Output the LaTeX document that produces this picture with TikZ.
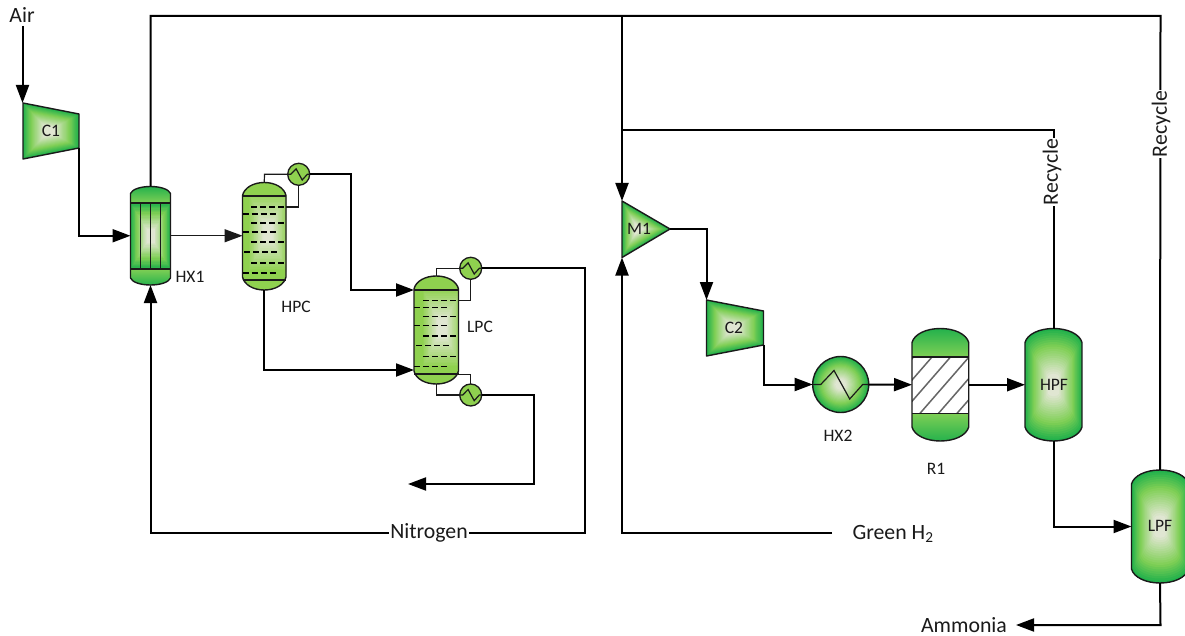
\documentclass[tikz,border=0pt]{standalone}
\usepackage{fontspec}
\setmainfont{Carlito}
\usetikzlibrary{arrows.meta,calc}
\definecolor{gouter}{HTML}{22B14C}
\definecolor{gmid}{HTML}{7FCF55}
\definecolor{ginner}{HTML}{E0E6D2}
\definecolor{column}{HTML}{8FD14F}
\definecolor{inkc}{HTML}{1A1A1A}
% vessel outline: x1,y1 (top left), x2,y2 (bottom right), d = dome height
\newcommand\vesselp[5]{({#1},{#2+#5})
 .. controls ({#1+.04*(#3-#1)},{#2+.4*#5}) and ({#1+.25*(#3-#1)},{#2}) .. ({.5*(#1+#3)},{#2})
 .. controls ({#3-.25*(#3-#1)},{#2}) and ({#3-.04*(#3-#1)},{#2+.4*#5}) .. ({#3},{#2+#5})
 -- ({#3},{#4-#5})
 .. controls ({#3-.04*(#3-#1)},{#4-.4*#5}) and ({#3-.25*(#3-#1)},{#4}) .. ({.5*(#1+#3)},{#4})
 .. controls ({#1+.25*(#3-#1)},{#4}) and ({#1+.04*(#3-#1)},{#4-.4*#5}) .. ({#1},{#4-#5}) -- cycle}
% shape-burst gradient: centre x, centre y, path
\newcommand\burst[3]{%
 \foreach \tt in {0,4,...,96}{%
  \ifnum\tt<30 \pgfmathtruncatemacro\mx{\tt*100/30}\colorlet{bc}{gmid!\mx!gouter}%
  \else \pgfmathtruncatemacro\mx{min(100,(\tt-30)*100/50)}\colorlet{bc}{ginner!\mx!gmid}\fi
  \pgfmathsetmacro\ss{1-\tt/100}%
  \begin{scope}[shift={(#1,#2)},scale=\ss,shift={(-#1,-#2)}]
   \fill[bc] #3;
  \end{scope}}}
% column glow: centre x, centre y, half widths
\newcommand\glow[4]{%
 \foreach \tt in {0,4,...,96}{%
  \pgfmathtruncatemacro\mx{min(100,\tt*1.3)}\colorlet{bc}{ginner!\mx!column}%
  \pgfmathsetmacro\ss{1-\tt/100}%
  \fill[bc] ({#1-\ss*#3},{#2-\ss*#4}) rectangle ({#1+\ss*#3},{#2+\ss*#4});}}
\tikzset{
 outline/.style={draw=inkc,line width=1.4pt,line join=round},
 eqport/.style={inner sep=0pt,outer sep=0pt,draw=none,fill=none,rectangle},
 small/.style={font=\fontsize{17.5}{20}\selectfont,text=inkc,inner sep=1pt},
 big/.style={font=\fontsize{21.8}{25}\selectfont,text=inkc,inner sep=2pt},
 flow/.style={draw=black,line width=2pt,line join=miter},
 fine/.style={draw=inkc,line width=1.2pt,line join=miter},
 tip/.style={-{Triangle[length=18pt,width=13pt]}},
 wrap/.style={fill=white,inner sep=1pt},
 exch/.style={circle,minimum size=22pt,inner sep=0pt,outer sep=0pt,draw=inkc,line width=1.3pt,fill=column},
 tray/.style={draw=black,line width=1.2pt,dash pattern=on 6pt off 3pt},
}
\begin{document}
\begin{tikzpicture}[x=1pt,y=-1pt]
\useasboundingbox (0,0) rectangle (1185,636);
\fill[white] (0,0) rectangle (1185,636);

% ---------- C1, C2, M1
\burst{49}{131}{(23,103) -- (79,114) -- (79,148) -- (23,159) -- cycle}
\draw[outline] (23,103) -- (79,114) -- (79,148) -- (23,159) -- cycle;
\burst{733}{328}{(706.5,300) -- (763.5,311) -- (763.5,345) -- (706.5,356) -- cycle}
\draw[outline] (706.5,300) -- (763.5,311) -- (763.5,345) -- (706.5,356) -- cycle;
\burst{638}{229}{(622,201) -- (670,229) -- (622,257.5) -- cycle}
\draw[outline] (622,201) -- (670,229) -- (622,257.5) -- cycle;

% ---------- HX1
\begin{scope}
 \clip \vesselp{130.5}{186.5}{170.5}{285}{7};
 \shade[top color=gouter,bottom color=gmid] (130,186) rectangle (171,203);
 \shade[top color=gmid,bottom color=gouter] (130,269) rectangle (171,286);
 \burst{150.5}{236}{(130.5,203) rectangle (170.5,269)}
\end{scope}
\draw[outline] \vesselp{130.5}{186.5}{170.5}{285}{7};
\draw[outline] (130.5,203) -- (170.5,203) (130.5,269) -- (170.5,269)
 (140.5,203) -- (140.5,269) (150.5,203) -- (150.5,269) (160.7,203) -- (160.7,269);

% ---------- HPC
\fill[column] \vesselp{242.5}{182.5}{286}{290}{13};
\begin{scope}
 \clip (242.5,196) rectangle (286,280);
 \glow{268}{232}{20}{40}
\end{scope}
\draw[outline] \vesselp{242.5}{182.5}{286}{290}{13};
\draw[outline,line width=1.8pt] (242.5,196) -- (286,196) (242.5,280) -- (286,280);
\foreach \yy in {207,223,242,263} \draw[tray] (251,\yy) -- (286,\yy);
\foreach \yy in {214,232,273} \draw[tray] (242.5,\yy) -- (277,\yy);
\draw[tray] (244,252) -- (279,252);

% ---------- LPC
\fill[column] \vesselp{414}{276}{458.5}{384}{13};
\begin{scope}
 \clip (414,290) rectangle (458.5,374);
 \glow{442}{328}{20}{40}
\end{scope}
\draw[outline] \vesselp{414}{276}{458.5}{384}{13};
\draw[outline,line width=1.8pt] (414,290) -- (458.5,290) (414,374.3) -- (458.5,374.3);
\foreach \yy in {300.7,316.7,336,356.7} \draw[tray] (423,\yy) -- (458.5,\yy);
\foreach \yy in {307.7,325.3,366.7} \draw[tray] (414,\yy) -- (449,\yy);
\draw[tray] (416,345.7) -- (451,345.7);

% ---------- R1
\begin{scope}
 \clip \vesselp{912}{328.5}{968.7}{441}{14};
 \shade[top color=gouter,bottom color=gmid] (911,328) rectangle (970,357);
 \shade[top color=gmid,bottom color=gouter] (911,413) rectangle (970,442);
 \fill[white] (912,357) rectangle (968.7,413.3);
\end{scope}
\begin{scope}
 \clip (912,357) rectangle (968.7,413.3);
 \foreach \k in {-1,0,...,5}{
  \draw[draw=black!60,line width=1.5pt] ({932+\k*18.5-54.8},420) -- ({932+\k*18.5+14.8},340);}
\end{scope}
\draw[outline] \vesselp{912}{328.5}{968.7}{441}{14};
\draw[outline] (912,357) -- (968.7,357) (912,413.3) -- (968.7,413.3);

% ---------- HPF, LPF
\begin{scope}
 \clip \vesselp{1025}{328.5}{1082}{441}{14};
 \burst{1053.5}{385}{\vesselp{1025}{328.5}{1082}{441}{14}}
\end{scope}
\draw[outline] \vesselp{1025}{328.5}{1082}{441}{14};
\begin{scope}
 \clip \vesselp{1131.5}{470}{1188.5}{583}{14};
 \burst{1160}{526.5}{\vesselp{1131.5}{470}{1188.5}{583}{14}}
\end{scope}
\draw[outline] \vesselp{1131.5}{470}{1188.5}{583}{14};

% ---------- HX2
\burst{840.7}{384.5}{(840.7,384.5) circle[radius=28]}
\draw[outline] (840.7,384.5) circle[radius=28];

% ---------- ports
\node[eqport,minimum width=40pt,minimum height=98.5pt] (HX1port) at (150.5,235.75) {};
\node[eqport,minimum width=43.5pt,minimum height=107.5pt] (HPCport) at (264.25,236.25) {};
\node[eqport,minimum width=44.5pt,minimum height=108pt] (LPCport) at (436.25,330) {};
\node[eqport,minimum width=56.7pt,minimum height=112.5pt] (R1port) at (940.35,384.75) {};
\node[eqport,minimum width=57pt,minimum height=112.5pt] (HPFport) at (1053.5,384.75) {};
\node[eqport,minimum width=57pt,minimum height=113pt] (LPFport) at (1160,526.5) {};
\node[eqport,minimum size=56pt] (HX2port) at (840.7,384.5) {};
\node[exch] (cond1) at (298.7,174.3) {};
\node[exch] (cond2) at (470.7,268.3) {};
\node[exch] (reb) at (470.7,395) {};

% ---------- named connection points
\coordinate (airin) at (22.5,26);
\coordinate (c1in) at (22.5,103);
\coordinate (c1out) at (79,148);
\coordinate (m1in) at (622,201);
\coordinate (m1h) at (622,257.5);
\coordinate (m1out) at (670,229);
\coordinate (c2in) at (706.5,300);
\coordinate (c2out) at (763.5,345);
\coordinate (tl) at (150.5,16);
\coordinate (tr) at (1160.5,16);
\coordinate (tm) at (622,16);
\coordinate (rj) at (622,130);
\coordinate (rr) at (1053.5,130);
\coordinate (h2end) at (832,533);
\coordinate (h2c) at (622,533);
\coordinate (nbl) at (150.5,533);
\coordinate (nbr) at (585,533);
\coordinate (lp) at (408,484);
\coordinate (rebc) at (534,484);
\coordinate (am) at (1016,625);
\coordinate (amc) at (1160.5,625);
\coordinate (hpcT) at (264.5,174.3);
\coordinate (hpcS) at (286,207);
\coordinate (lpcS) at (458.5,300.7);
\coordinate (lpcB) at (458.5,374.3);

% ---------- zigzags
\foreach \nn in {cond1,cond2,reb}{
 \draw[fine] ($(\nn)+(-11,0)$) -- ($(\nn)+(-8,0)$) -- ($(\nn)+(-2.6,-5.5)$) -- ($(\nn)+(3.5,5.7)$) -- ($(\nn)+(8.6,0)$) -- ($(\nn)+(11,0)$);}
\draw[fine] ($(HX2port)+(-28,0)$) -- ($(HX2port)+(-20,0)$) -- ($(HX2port)+(-6.7,-14)$) -- ($(HX2port)+(9,14.5)$) -- ($(HX2port)+(22,0)$) -- ($(HX2port)+(28,0)$);

% ---------- connectors
\draw[flow,tip] (airin) -- (c1in);
\draw[flow,tip] (c1out) |- (HX1port.west);
\draw[fine,line width=1.5pt,tip] (HX1port.east) -- (HX1port.east -| HPCport.west);
\draw[flow] (HX1port.north) -- (tl) -- (tr) -- (LPFport.north);
\draw[flow,tip] (tm) -- (m1in);
\draw[flow] (rj) -- (rr) -- (HPFport.north);
\draw[flow,tip] (h2end) -- (h2c) -- (m1h);
\draw[flow,tip] (m1out) -| (c2in);
\draw[flow,tip] (c2out) |- (HX2port.west);
\draw[flow,tip] (HX2port.east) -- (R1port.west);
\draw[flow,tip] (R1port.east) -- (HPFport.west);
\draw[flow,tip] (HPFport.south) |- (LPFport.west);
\draw[flow,tip] (LPFport.south) -- (amc) -- (am);
\draw[fine] (HPCport.north) -- (hpcT) -- (cond1.west);
\draw[fine] (cond1.south) |- (hpcS);
\draw[flow,tip] (cond1.east) -| ($(LPCport.west)+(-63,-40)$) -- ($(LPCport.west)+(0,-40)$);
\draw[flow,tip] (HPCport.south) |- ($(LPCport.west)+(0,40)$);
\draw[fine] (LPCport.north) |- (cond2.west);
\draw[fine] (cond2.south) |- (lpcS);
\draw[fine] (LPCport.south) |- (reb.west);
\draw[fine] (reb.north) |- (lpcB);
\draw[flow,tip] (reb.east) -| (rebc) -- (lp);
\draw[flow,tip] (cond2.east) -| (nbr) -- (nbl) -- (HX1port.south);

% ---------- labels
\node[big] (airl) at (22,15) {Air};
\node[small] (c1l) at (51,131) {C1};
\node[small] (hx1l) at (190,277) {HX1};
\node[small] (hpcl) at (296,307) {HPC};
\node[small] (lpcl) at (480,327) {LPC};
\node[small] (m1l) at (639,229) {M1};
\node[small] (c2l) at (734,328) {C2};
\node[small] (hx2l) at (838,436) {HX2};
\node[small] (r1l) at (936,469) {R1};
\node[small] (hpfl) at (1054,385) {HPF};
\node[small] (lpfl) at (1160,526) {LPF};
\node[big,wrap] (nl) at (429,533) {Nitrogen};
\node[big] (gl) at (893,534) {Green H\textsubscript{2}};
\node[big] (al) at (964,625) {Ammonia};
\node[big,wrap,rotate=90] (r1a) at (1052,172) {Recycle};
\node[big,wrap,rotate=90] (r2a) at (1161,124) {Recycle};
\end{tikzpicture}
\end{document}
